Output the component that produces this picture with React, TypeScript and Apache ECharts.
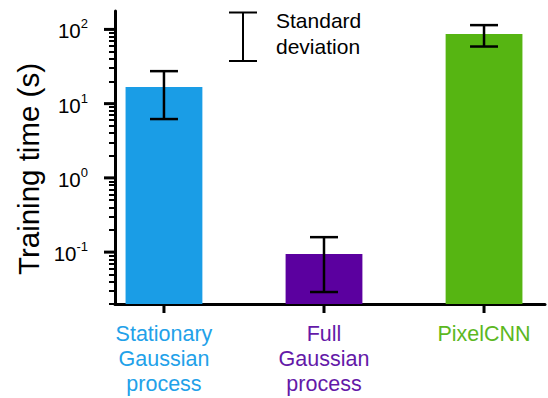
import React, { useEffect, useRef } from 'react';
import * as echarts from 'echarts';

// Training time per model (seconds): mean and standard deviation
const categories = ['Stationary\nGaussian\nprocess', 'Full\nGaussian\nprocess', 'PixelCNN'];
const meanTime = [16.8, 0.094, 86.5];
const stdTime = [10.6, 0.065, 27.7];
const barColors = ['#1a9de6', '#5b009f', '#56b512'];
const labelColors = ['#22a1e9', '#6419a8', '#5cb81f'];

// Log axis decades labelled as powers of ten
const yTickPowers = [-1, 0, 1, 2];
const Y_MIN = 0.02;
const Y_MAX = 177;

const FONT = '"Liberation Sans", Arial, Helvetica, sans-serif';
const BAR_WIDTH = 0.48; // in category units
const CAP_PX = 28;
const X_MIN = -0.306;
const X_MAX = 2.381;

// minor ticks at 2..9 x 10^k inside the axis range (log space)
const minorTicks: number[] = [];
for (let k = -2; k <= 2; k++) {
  for (let m = 2; m <= 9; m++) {
    const v = m * Math.pow(10, k);
    if (v >= Y_MIN && v <= Y_MAX) minorTicks.push(Math.log10(v));
  }
}

const catIdx = categories.map((_, i) => i);

export default function App() {
  const ref = useRef<HTMLDivElement>(null);

  useEffect(() => {
    document.body.style.margin = '0';
    const chart = echarts.init(ref.current!, undefined, { renderer: 'svg' });

    const rich: Record<string, any> = {};
    labelColors.forEach((c, i) => {
      rich['c' + i] = { color: c, fontSize: 21.5, lineHeight: 25, fontFamily: FONT, align: 'center' };
    });

    const yMin = Math.log10(Y_MIN);
    const yMax = Math.log10(Y_MAX);
    const tickStyle = { stroke: '#000', lineWidth: 3 };

    chart.setOption({
      animation: false,
      grid: { left: 115, right: 3, top: 11, bottom: 94, containLabel: false },
      xAxis: {
        type: 'value',
        min: X_MIN,
        max: X_MAX,
        axisLine: { show: true, onZero: false, lineStyle: { color: '#000', width: 3 } },
        axisTick: { show: false },
        axisLabel: {
          customValues: catIdx.slice(),
          margin: 17,
          formatter: (v: number) => `{c${Math.round(v)}|${categories[Math.round(v)]}}`,
          rich,
        },
        splitLine: { show: false },
      },
      yAxis: [
        {
          type: 'value',
          min: yMin,
          max: yMax,
          axisLine: { show: true, onZero: false, lineStyle: { color: '#000', width: 3 } },
          axisTick: { show: false },
          axisLabel: {
            customValues: yTickPowers.slice(),
            margin: 27,
            formatter: (v: number) => `{b|10}{s|${Math.round(v)}}`,
            rich: {
              b: { fontSize: 20.5, fontFamily: FONT, color: '#000', verticalAlign: 'bottom', lineHeight: 24 },
              s: { fontSize: 13, fontFamily: FONT, color: '#000', verticalAlign: 'top', lineHeight: 12 },
            },
          },
          splitLine: { show: false },
        },
        {
          // minor log ticks only
          type: 'value',
          min: yMin,
          max: yMax,
          position: 'left',
          offset: 0,
          axisLine: { show: false, onZero: false },
          axisTick: { show: true, inside: false, customValues: minorTicks, length: 6, lineStyle: { color: '#000', width: 2 } },
          axisLabel: { show: false },
          splitLine: { show: false },
        },
      ],
      series: [
        {
          type: 'custom',
          name: 'Training time',
          yAxisIndex: 0,
          data: meanTime.map((m, i) => [i, Math.log10(m)]),
          encode: { x: 0, y: 1 },
          renderItem: (params: any, api: any) => {
            const x = api.value(0);
            const top = api.coord([x, api.value(1)]);
            const base = api.coord([x, yMin]);
            const w = api.size([BAR_WIDTH, 0])[0];
            return {
              type: 'rect',
              shape: { x: top[0] - w / 2, y: top[1], width: w, height: base[1] - top[1] },
              style: { fill: barColors[params.dataIndex] },
            };
          },
        },
        {
          type: 'custom',
          name: 'Standard deviation',
          yAxisIndex: 0,
          data: meanTime.map((m, i) => [i, Math.log10(m - stdTime[i]), Math.log10(m + stdTime[i])]),
          encode: { x: 0, y: [1, 2] },
          renderItem: (params: any, api: any) => {
            const x = api.value(0);
            const lo = api.coord([x, api.value(1)]);
            const hi = api.coord([x, api.value(2)]);
            const style = { stroke: '#000', lineWidth: 2.5 };
            return {
              type: 'group',
              children: [
                { type: 'line', shape: { x1: lo[0], y1: lo[1], x2: hi[0], y2: hi[1] }, style },
                { type: 'line', shape: { x1: hi[0] - CAP_PX / 2, y1: hi[1], x2: hi[0] + CAP_PX / 2, y2: hi[1] }, style },
                { type: 'line', shape: { x1: lo[0] - CAP_PX / 2, y1: lo[1], x2: lo[0] + CAP_PX / 2, y2: lo[1] }, style },
              ],
            };
          },
        },
        {
          // major ticks at each decade on the left axis
          type: 'custom',
          name: 'decade ticks',
          yAxisIndex: 0,
          silent: true,
          data: yTickPowers.map((p) => [X_MIN, p]),
          encode: { x: 0, y: 1 },
          renderItem: (params: any, api: any) => {
            const p = api.coord([api.value(0), api.value(1)]);
            return { type: 'line', shape: { x1: p[0] - 11, y1: p[1], x2: p[0], y2: p[1] }, style: tickStyle };
          },
        },
        {
          // ticks under each category on the bottom axis
          type: 'custom',
          name: 'category ticks',
          yAxisIndex: 0,
          silent: true,
          data: catIdx.map((i) => [i, yMin]),
          encode: { x: 0, y: 1 },
          renderItem: (params: any, api: any) => {
            const p = api.coord([api.value(0), api.value(1)]);
            return { type: 'line', shape: { x1: p[0], y1: p[1], x2: p[0], y2: p[1] + 9 }, style: tickStyle };
          },
        },
      ],
      graphic: [
        {
          type: 'text',
          x: 28,
          y: 169,
          rotation: Math.PI / 2,
          style: {
            text: 'Training time (s)',
            fontSize: 29.5,
            fontFamily: FONT,
            fill: '#000',
            align: 'center',
            verticalAlign: 'middle',
          },
        },
        // legend: error-bar glyph and its caption
        {
          type: 'group',
          children: [
            { type: 'line', shape: { x1: 243, y1: 12.5, x2: 243, y2: 61 }, style: { stroke: '#000', lineWidth: 2 } },
            { type: 'line', shape: { x1: 229, y1: 12.5, x2: 257, y2: 12.5 }, style: { stroke: '#000', lineWidth: 2 } },
            { type: 'line', shape: { x1: 229, y1: 61, x2: 257, y2: 61 }, style: { stroke: '#000', lineWidth: 2 } },
            {
              type: 'text',
              x: 276,
              y: 7,
              style: {
                text: 'Standard\ndeviation',
                fontSize: 21,
                lineHeight: 26,
                fontFamily: FONT,
                fill: '#000',
                align: 'left',
                verticalAlign: 'top',
              },
            },
          ],
        },
      ],
    });

    return () => chart.dispose();
  }, []);

  return <div ref={ref} style={{ width: 548, height: 398 }} />;
}
